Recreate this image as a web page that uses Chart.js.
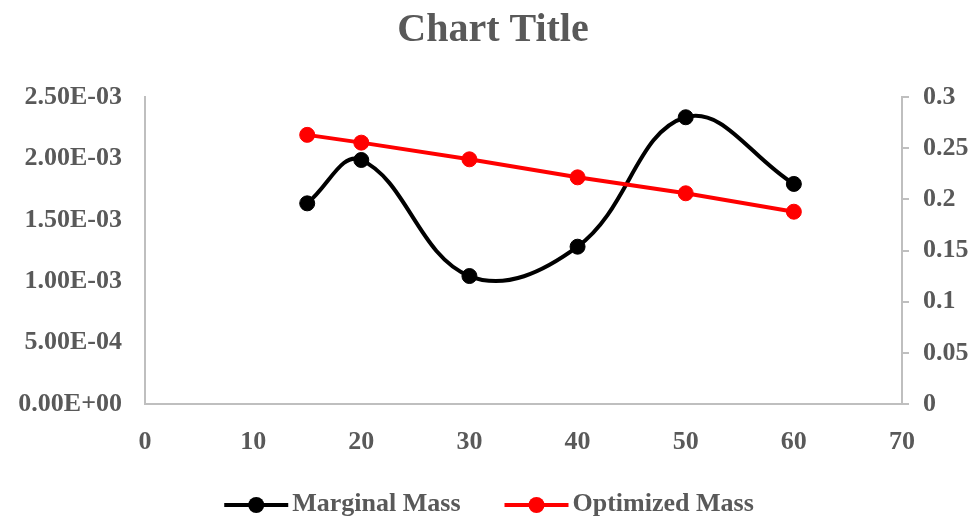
<!DOCTYPE html>
<html>
<head>
<meta charset="utf-8">
<title>Chart Title</title>
<script src="https://cdn.jsdelivr.net/npm/chart.js@4/dist/chart.umd.min.js"></script>
<style>
  html, body { margin: 0; padding: 0; background: #ffffff; }
  #c { display: block; }
</style>
</head>
<body>
<canvas id="c" width="978" height="520"></canvas>
<script>
// Sample positions (shared x values)
const xValues = [15, 20, 30, 40, 50, 60];
// Marginal mass, plotted against the left axis
const marginalMass = [1.634e-3, 1.987e-3, 1.042e-3, 1.281e-3, 2.335e-3, 1.792e-3];
// Optimized mass, plotted against the right axis
const optimizedMass = [0.263, 0.2554, 0.2391, 0.2215, 0.2059, 0.1879];

// Tick values for each axis
const xTicks = [0, 10, 20, 30, 40, 50, 60, 70];
const leftTicks = [0, 0.0005, 0.001, 0.0015, 0.002, 0.0025];
const rightTicks = [0, 0.05, 0.1, 0.15, 0.2, 0.25, 0.3];

const seriesNames = ['Marginal Mass', 'Optimized Mass'];

const FONT = "'Liberation Serif', 'Times New Roman', serif";
const TEXT = '#595959';
const AXIS = '#bfbfbf';

// "2.50E-03" style labels
function sci(v) {
  const parts = Number(v).toExponential(2).split('e');
  const n = parseInt(parts[1], 10);
  return parts[0] + 'E' + (n < 0 ? '-' : '+') + String(Math.abs(n)).padStart(2, '0');
}

function fixedTicks(values) {
  return function (scale) {
    scale.ticks = values.map(v => ({ value: v }));
  };
}

function points(ys) {
  return xValues.map((x, i) => ({ x: x, y: ys[i] }));
}

// Legend drawn as a short line with a marker in the middle, like the series
const lineLegend = {
  id: 'lineLegend',
  afterDraw(chart, args, opts) {
    const ctx = chart.ctx;
    const sets = chart.data.datasets;
    ctx.save();
    ctx.font = 'bold ' + opts.fontSize + 'px ' + FONT;
    const widths = sets.map(ds => opts.lineLength + opts.textGap + ctx.measureText(ds.label).width);
    const total = widths.reduce((a, b) => a + b, 0) + opts.itemGap * (sets.length - 1);
    let x = (chart.width - total) / 2;
    const y = chart.height - opts.bottomOffset;
    sets.forEach((ds, i) => {
      ctx.strokeStyle = ds.borderColor;
      ctx.lineWidth = ds.borderWidth;
      ctx.beginPath();
      ctx.moveTo(x, y);
      ctx.lineTo(x + opts.lineLength, y);
      ctx.stroke();
      ctx.fillStyle = ds.pointBackgroundColor;
      ctx.beginPath();
      ctx.arc(x + opts.lineLength / 2, y, ds.pointRadius + 0.5, 0, Math.PI * 2);
      ctx.fill();
      ctx.fillStyle = TEXT;
      ctx.textAlign = 'left';
      ctx.textBaseline = 'middle';
      ctx.fillText(ds.label, x + opts.lineLength + opts.textGap, y - 1);
      x += widths[i] + opts.itemGap;
    });
    ctx.restore();
  }
};

new Chart(document.getElementById('c'), {
  type: 'line',
  data: {
    datasets: [
      {
        label: seriesNames[0],
        data: points(marginalMass),
        yAxisID: 'yLeft',
        borderColor: '#000000',
        backgroundColor: '#000000',
        pointBackgroundColor: '#000000',
        pointBorderColor: '#000000',
        borderWidth: 4,
        pointRadius: 7.5,
        pointBorderWidth: 1,
        tension: 0.4,
        fill: false,
        order: 2
      },
      {
        label: seriesNames[1],
        data: points(optimizedMass),
        yAxisID: 'yRight',
        borderColor: '#ff0000',
        backgroundColor: '#ff0000',
        pointBackgroundColor: '#ff0000',
        pointBorderColor: '#ff0000',
        borderWidth: 4,
        pointRadius: 7.5,
        pointBorderWidth: 1,
        tension: 0,
        fill: false,
        order: 1
      }
    ]
  },
  options: {
    responsive: false,
    animation: false,
    events: [],
    layout: { padding: { left: 18, right: 10, top: 0, bottom: 64 } },
    plugins: {
      legend: { display: false },
      tooltip: { enabled: false },
      title: {
        display: true,
        text: 'Chart Title',
        color: TEXT,
        font: { family: FONT, size: 40, weight: 'bold' },
        padding: { top: 7, bottom: 42 }
      },
      lineLegend: { fontSize: 26, lineLength: 64, textGap: 4, itemGap: 44, bottomOffset: 15 }
    },
    scales: {
      x: {
        type: 'linear',
        min: 0,
        max: 70,
        afterBuildTicks: fixedTicks(xTicks),
        afterFit: s => { s.height = 52; },
        grid: { drawOnChartArea: false, drawTicks: false },
        border: { display: true, color: AXIS, width: 2 },
        ticks: {
          color: TEXT,
          padding: 23,
          maxRotation: 0,
          font: { family: FONT, size: 26, weight: 'bold' },
          callback: v => String(v)
        }
      },
      yLeft: {
        type: 'linear',
        position: 'left',
        min: 0,
        max: 0.0025,
        afterBuildTicks: fixedTicks(leftTicks),
        afterFit: s => { s.width = 127; },
        grid: { drawOnChartArea: false, drawTicks: false },
        border: { display: true, color: AXIS, width: 2 },
        ticks: {
          color: TEXT,
          padding: 23,
          font: { family: FONT, size: 26, weight: 'bold' },
          callback: v => sci(v)
        }
      },
      yRight: {
        type: 'linear',
        position: 'right',
        min: 0,
        max: 0.3,
        afterBuildTicks: fixedTicks(rightTicks),
        afterFit: s => { s.width = 66; },
        grid: { drawOnChartArea: false, drawTicks: true, tickLength: 7, tickColor: AXIS, lineWidth: 2 },
        border: { display: true, color: AXIS, width: 2 },
        ticks: {
          color: TEXT,
          padding: 14,
          font: { family: FONT, size: 26, weight: 'bold' },
          callback: v => String(+Number(v).toFixed(4))
        }
      }
    }
  },
  plugins: [lineLegend]
});
</script>
</body>
</html>
